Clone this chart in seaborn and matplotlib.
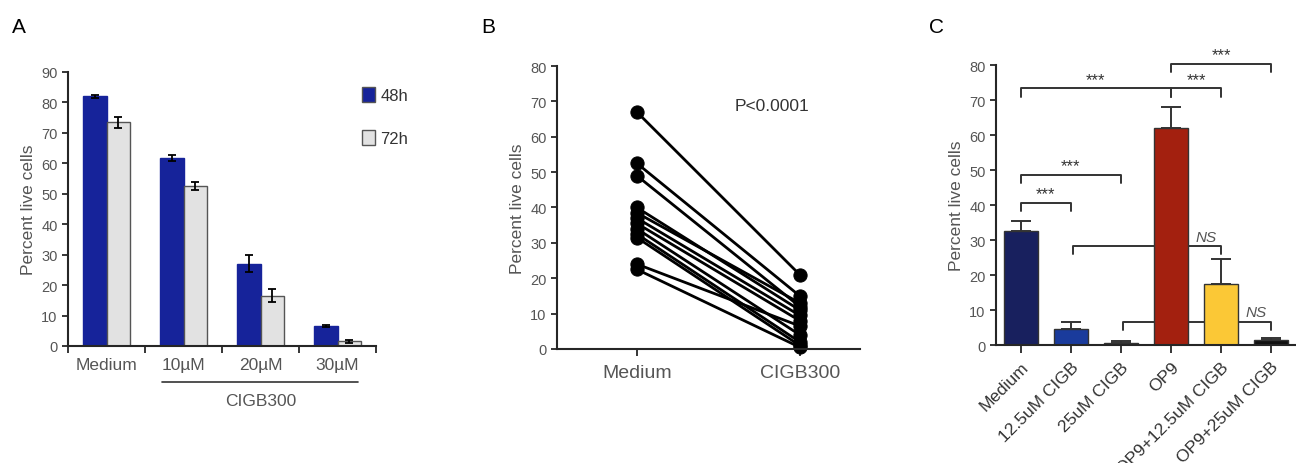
import matplotlib
matplotlib.use("Agg")
import matplotlib.pyplot as plt
import matplotlib.transforms as mtransforms
import numpy as np
import pandas as pd
import seaborn as sns

# ---- data ----
# panel A
a_groups = ["Medium", "10µM", "20µM", "30µM"]
a_48h = [82.0, 61.8, 27.0, 6.6]
a_48h_err = [0.5, 1.0, 2.8, 0.3]
a_72h = [73.5, 52.5, 16.5, 1.6]
a_72h_err = [1.8, 1.2, 2.2, 0.5]

# panel B (paired samples)
b_conds = ["Medium", "CIGB300"]
b_medium = [67, 52.5, 49, 40, 38.5, 37, 35.5, 34, 32.5, 31.5, 24, 22.5]
b_cigb = [21, 15, 12, 11, 13, 9.5, 8, 4, 2, 1, 6.5, 0.5]

# panel C
c_conds = ["Medium", "12.5uM CIGB", "25uM CIGB", "OP9", "OP9+12.5uM CIGB", "OP9+25uM CIGB"]
c_vals = [32.5, 4.5, 0.7, 62.0, 17.5, 1.5]
c_err = [3.0, 2.0, 0.4, 6.0, 7.0, 0.6]
c_colors = ["#18205e", "#1a3b9c", "#111111", "#a3200f", "#fbc836", "#111111"]
# (left index, right index, height, label)
c_brackets = [
    (0, 3, 73.3, "***"),
    (3, 4, 73.3, "***"),
    (3, 5, 80.3, "***"),
    (0, 2, 48.6, "***"),
    (0, 1, 40.6, "***"),
    (1, 4, 28.2, "NS"),
    (2, 5, 6.5, "NS"),
]

sns.set_style("ticks")
plt.rcParams["font.family"] = ["Liberation Sans", "DejaVu Sans"]
plt.rcParams["axes.linewidth"] = 1.5
plt.rcParams["xtick.major.width"] = 1.3
plt.rcParams["ytick.major.width"] = 1.3

grey = "#555555"
tick_fs = 10.5
lab_fs = 12.5
fig = plt.figure(figsize=(12.96, 4.64), dpi=100)

# ================= Panel A =================
axA = fig.add_axes([0.0525, 0.2522, 0.2377, 0.5905])
dfA = pd.DataFrame({
    "group": a_groups * 2,
    "time": ["48h"] * 4 + ["72h"] * 4,
    "value": a_48h + a_72h,
})
sns.barplot(data=dfA, x="group", y="value", hue="time", ax=axA,
            palette={"48h": "#16239a", "72h": "#e2e2e2"}, width=0.6, gap=0,
            saturation=1, errorbar=None, edgecolor="#555555", linewidth=1.0)
for cont, err in zip(axA.containers, [a_48h_err, a_72h_err]):
    xs = [p.get_x() + p.get_width() / 2 for p in cont]
    hs = [p.get_height() for p in cont]
    axA.errorbar(xs, hs, yerr=err, fmt="none", ecolor="black",
                 elinewidth=1.3, capsize=3, capthick=1.3, zorder=3)
for p in axA.containers[0]:
    p.set_edgecolor("#16239a")
axA.set_ylim(0, 90)
axA.set_yticks(range(0, 91, 10))
axA.set_xlim(-0.5, 3.5)
axA.set_xticks(np.arange(-0.5, 3.6, 1.0))
axA.set_xticklabels([])
axA.tick_params(axis="x", length=5, direction="out")
axA.tick_params(axis="y", length=4, labelsize=tick_fs, labelcolor=grey)
trA = mtransforms.blended_transform_factory(axA.transData, axA.transAxes)
for i, lab in enumerate(a_groups):
    axA.text(i, -0.04, lab, transform=trA, ha="center", va="top", fontsize=lab_fs, color=grey)
axA.plot([0.72, 3.27], [-0.131, -0.131], transform=trA, color="#333333", lw=1.2, clip_on=False)
axA.text(2.0, -0.17, "CIGB300", transform=trA, ha="center", va="top", fontsize=lab_fs, color=grey)
axA.set_xlabel("")
axA.set_ylabel("Percent live cells", fontsize=lab_fs, color=grey)
sns.despine(ax=axA)
sns.move_legend(axA, "upper left", bbox_to_anchor=(0.905, 1.0), frameon=False, title=None,
                labelspacing=1.6, handlelength=0.8, handleheight=1.0, handletextpad=0.3, fontsize=12)
for t in axA.get_legend().get_texts():
    t.set_color("#333333")

# ================= Panel B =================
axB = fig.add_axes([0.4298, 0.2457, 0.2338, 0.6099])
dfB = pd.DataFrame({
    "pair": list(range(len(b_medium))) * 2,
    "cond": [b_conds[0]] * len(b_medium) + [b_conds[1]] * len(b_cigb),
    "value": b_medium + b_cigb,
})
sns.lineplot(data=dfB, x="cond", y="value", units="pair", estimator=None, sort=False,
             color="black", lw=2, marker="o", markersize=9.5, markeredgecolor="black",
             ax=axB, clip_on=False)
axB.set_ylim(0, 80)
axB.set_yticks(range(0, 81, 10))
axB.set_xlim(-0.49, 1.37)
axB.set_xticks([0, 1])
axB.set_xticklabels(b_conds, fontsize=14, color=grey)
axB.tick_params(axis="x", length=5, pad=6)
axB.tick_params(axis="y", length=4, labelsize=tick_fs, labelcolor=grey)
axB.set_xlabel("")
axB.set_ylabel("Percent live cells", fontsize=lab_fs, color=grey)
axB.text(0.71, 0.86, "P<0.0001", transform=axB.transAxes, ha="center", va="center",
         fontsize=12.5, color="#333333")
sns.despine(ax=axB)

# ================= Panel C =================
axC = fig.add_axes([0.7685, 0.2543, 0.2315, 0.6034])
sns.barplot(x=c_conds, y=c_vals, hue=c_conds, palette=c_colors, legend=False, saturation=1,
            width=0.67, errorbar=None, edgecolor="#333333", linewidth=1.0, ax=axC)
xs = [p.get_x() + p.get_width() / 2 for p in axC.patches]
for x, v, e, col in zip(xs, c_vals, c_err, c_colors):
    axC.errorbar([x], [v], yerr=[[0], [e]], fmt="none", ecolor="#333333",
                 elinewidth=1.4, capsize=7, capthick=1.4, zorder=3)
for i, j, h, lab in c_brackets:
    x0, x1 = xs[i], xs[j]
    if lab == "NS":
        x0 += 0.05
    axC.plot([x0, x0, x1, x1], [h - 2.3, h, h, h - 2.3], color="#333333", lw=1.4,
             zorder=0.5, clip_on=False)
    if lab == "NS":
        axC.text(x1 - 0.3, h + 0.8, lab, ha="center", va="bottom", fontsize=11,
                 style="italic", color=grey)
    else:
        axC.text((x0 + x1) / 2, h + 0.4, lab, ha="center", va="bottom", fontsize=12,
                 color="#333333")
axC.set_ylim(0, 80)
axC.set_yticks(range(0, 81, 10))
axC.set_xlim(-0.5, 5.5)
axC.set_xticks(range(len(c_conds)))
axC.set_xticklabels(c_conds, rotation=45, ha="right", rotation_mode="anchor",
                    fontsize=12.5, color="#333333")
axC.tick_params(axis="x", length=6, pad=4)
axC.tick_params(axis="y", length=4, labelsize=tick_fs, labelcolor=grey)
axC.set_ylabel("Percent live cells", fontsize=lab_fs, color=grey)
sns.despine(ax=axC)

# panel letters
for x, lab in [(0.009, "A"), (0.371, "B"), (0.717, "C")]:
    fig.text(x, 0.94, lab, fontsize=15, ha="left", va="center", color="black")

fig.savefig("out.png", dpi=100)
